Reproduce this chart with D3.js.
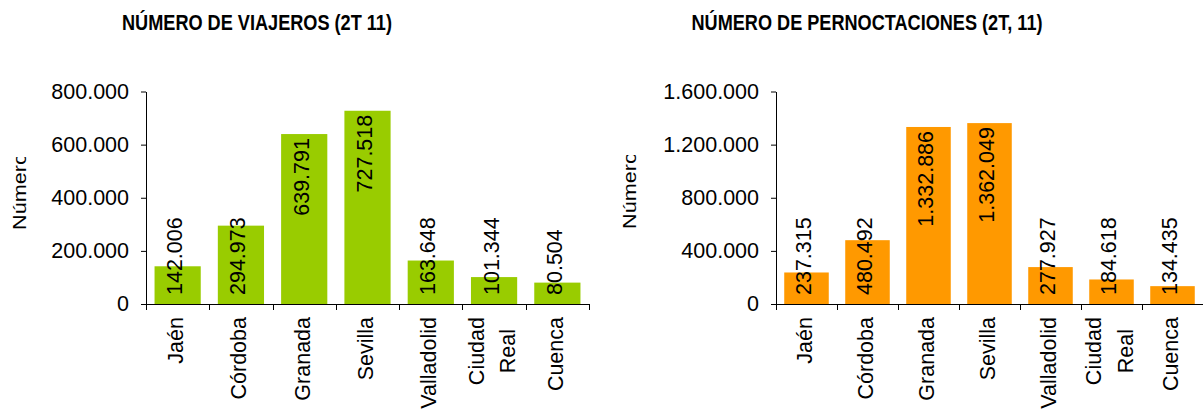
<!DOCTYPE html>
<html>
<head>
<meta charset="utf-8">
<script src="https://cdn.jsdelivr.net/npm/d3@7"></script>
<style>
body { margin: 0; background: #fff; }
</style>
</head>
<body>
<div id="canvas"></div>
<script>
// data
const categories = ['Jaén', 'Córdoba', 'Granada', 'Sevilla', 'Valladolid', 'Ciudad Real', 'Cuenca'];
const viajeros = [142006, 294973, 639791, 727518, 163648, 101344, 80504];
const pernoctaciones = [237315, 480492, 1332886, 1362049, 277927, 184618, 134435];
const viajerosTicks = [0, 200000, 400000, 600000, 800000];
const pernoctacionesTicks = [0, 400000, 800000, 1200000, 1600000];

const w = 1203,
    h = 410,
    font = '"Liberation Sans", Arial, sans-serif',
    fs = 21.5,
    yBase = 304,
    yTop = 91.5,
    svg = d3.select('#canvas').append('svg')
        .attr('width', w)
        .attr('height', h);

const es = d3.formatLocale({decimal: ',', thousands: '.', grouping: [3], currency: ['', '€']});
const fmt = es.format(',d');

svg.append('rect')
    .attr('width', w)
    .attr('height', h)
    .style('fill', '#fff');

function drawChart(cfg) {
    const g = svg.append('g');

    const x = d3.scaleBand()
        .domain(categories)
        .range([cfg.x0, cfg.x1])
        .paddingInner(0.27)
        .paddingOuter(0.135);

    const y = d3.scaleLinear()
        .domain([0, d3.max(cfg.ticks)])
        .range([yBase, yTop]);

    // title, squeezed like the original
    g.append('text')
        .attr('x', cfg.titleX - cfg.titleW / 2)
        .attr('y', 30)
        .attr('font-family', font)
        .attr('font-weight', 700)
        .attr('font-size', '22px')
        .attr('textLength', cfg.titleW)
        .attr('lengthAdjust', 'spacingAndGlyphs')
        .text(cfg.title);

    // y axis title (clipped like the original)
    const clipId = 'clip' + cfg.x0;
    svg.append('clipPath').attr('id', clipId)
        .append('rect')
        .attr('x', cfg.yTitleX - 40)
        .attr('y', cfg.yTitleClip)
        .attr('width', 80)
        .attr('height', 200);
    g.append('g')
        .attr('clip-path', 'url(#' + clipId + ')')
        .append('text')
        .attr('transform', 'translate(' + cfg.yTitleX + ',' + cfg.yTitleY + ')rotate(-90)')
        .attr('font-family', font)
        .attr('font-size', '19px')
        .attr('textLength', 77)
        .attr('lengthAdjust', 'spacingAndGlyphs')
        .text('Número');

    // bars
    g.append('g').selectAll('rect')
        .data(cfg.values)
        .join('rect')
        .attr('x', (d, i) => x(categories[i]))
        .attr('y', d => y(d))
        .attr('width', x.bandwidth())
        .attr('height', d => yBase - y(d))
        .style('fill', cfg.color);

    // y axis
    const ya = g.append('g')
        .attr('transform', 'translate(' + cfg.x0 + ',0)')
        .call(d3.axisLeft(y).tickValues(cfg.ticks).tickFormat(fmt)
            .tickSize(5).tickSizeOuter(0).tickPadding(12));
    ya.selectAll('text')
        .attr('font-family', font)
        .attr('font-size', fs + 'px')
        .attr('fill', '#000');
    ya.selectAll('line, path').attr('stroke', '#000');

    // x axis line and boundary ticks
    g.append('line')
        .attr('x1', cfg.x0)
        .attr('x2', cfg.x1)
        .attr('y1', yBase + 0.5)
        .attr('y2', yBase + 0.5)
        .attr('stroke', '#000');
    g.append('g').selectAll('line')
        .data(d3.range(categories.length + 1))
        .join('line')
        .attr('x1', i => Math.round(cfg.x0 + i * x.step()) + 0.5)
        .attr('x2', i => Math.round(cfg.x0 + i * x.step()) + 0.5)
        .attr('y1', yBase)
        .attr('y2', yBase + 6)
        .attr('stroke', '#000');

    // category labels, wrapped lines centred on the longest one
    const lab = g.append('g').selectAll('g')
        .data(categories)
        .join('g')
        .attr('transform', d => 'translate(' + (x(d) + x.bandwidth() / 2 - 2) + ',317)rotate(-90)');
    lab.each(function(d) {
        const words = d.split(' ');
        const texts = d3.select(this).selectAll('text')
            .data(words)
            .join('text')
            .attr('font-family', font)
            .attr('font-size', fs + 'px')
            .attr('text-anchor', 'middle')
            .attr('dy', '0.35em')
            .attr('y', (t, i) => (i - (words.length - 1) / 2) * 31.5)
            .text(t => t);
        const maxW = d3.max(texts.nodes(), n => n.getComputedTextLength());
        texts.attr('x', -maxW / 2);
    });

    // value labels: inside the top of tall bars, from the base otherwise
    g.append('g').selectAll('text')
        .data(cfg.values)
        .join('text')
        .attr('font-family', font)
        .attr('font-size', fs + 'px')
        .attr('dy', '0.35em')
        .text(d => fmt(d))
        .each(function(d, i) {
            const len = this.getComputedTextLength();
            const cx = x(categories[i]) + x.bandwidth() / 2 - 3;
            const inside = len + 10 < yBase - y(d);
            const ty = inside ? y(d) + 4 : yBase - 9;
            d3.select(this)
                .attr('text-anchor', inside ? 'end' : 'start')
                .attr('transform', 'translate(' + cx + ',' + ty + ')rotate(-90)');
        });
}

drawChart({
    title: 'NÚMERO DE VIAJEROS (2T 11)',
    titleX: 257,
    titleW: 270,
    values: viajeros,
    ticks: viajerosTicks,
    color: '#99cc00',
    x0: 146,
    x1: 589,
    yTitleX: 25.5,
    yTitleY: 230,
    yTitleClip: 157
});

drawChart({
    title: 'NÚMERO DE PERNOCTACIONES (2T, 11)',
    titleX: 867,
    titleW: 351,
    values: pernoctaciones,
    ticks: pernoctacionesTicks,
    color: '#ff9900',
    x0: 776,
    x1: 1203,
    yTitleX: 636,
    yTitleY: 229,
    yTitleClip: 155
});
</script>
</body>
</html>
